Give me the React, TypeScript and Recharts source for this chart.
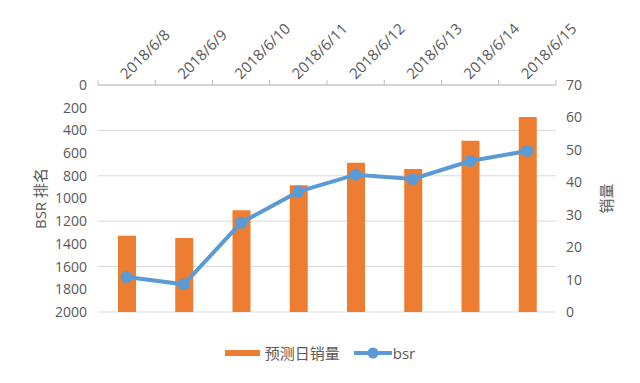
import { ComposedChart, Bar, Line, XAxis, YAxis, CartesianGrid, Legend, Label } from 'recharts'

const dates = ['2018/6/8', '2018/6/9', '2018/6/10', '2018/6/11', '2018/6/12', '2018/6/13', '2018/6/14', '2018/6/15']
const sales = [23.5, 22.8, 31.4, 39.1, 46, 44.1, 52.8, 60.1]
const bsr = [1692, 1756, 1213, 940, 790, 828, 670, 581]
const bsrTicks = [0, 200, 400, 600, 800, 1000, 1200, 1400, 1600, 1800, 2000]
const salesTicks = [0, 10, 20, 30, 40, 50, 60, 70]
const legendOrder = ['预测日销量', 'bsr']

const data = dates.map((date, i) => ({ date, sales: sales[i], bsr: bsr[i] }))

const FONT = '"Open Sans", "Noto Sans CJK SC", sans-serif'
const TEXT = '#595959'
const ORANGE = '#ed7d31'
const BLUE = '#5b9bd5'
const AXIS = '#bfbfbf'

// plot is 640 - 98 - 84 wide, split into one band per date
const BAND = (640 - 98 - 84) / dates.length

const DateTick = (props: any) => {
    const { x, y, payload, index, visibleTicksCount } = props
    const axisY = y + 8
    const ty = y + 3
    return (
        <g>
            <line x1={x - BAND / 2} y1={axisY} x2={x - BAND / 2} y2={axisY - 5} stroke={AXIS} />
            {index === visibleTicksCount - 1 && (
                <line x1={x + BAND / 2} y1={axisY} x2={x + BAND / 2} y2={axisY - 5} stroke={AXIS} />
            )}
            <text
                x={x}
                y={ty}
                transform={`rotate(-45 ${x} ${ty})`}
                textAnchor="start"
                fill={TEXT}
                fontSize={15}
                fontFamily={FONT}
            >
                {payload.value}
            </text>
        </g>
    )
}

const SideTitle = (x: number, text: string) => (props: any) => {
    const vb = props.viewBox
    const cy = vb.y + vb.height / 2
    return (
        <text
            x={x}
            y={cy}
            transform={`rotate(-90 ${x} ${cy})`}
            textAnchor="middle"
            dominantBaseline="central"
            fill={TEXT}
            fontSize={15}
            fontFamily={FONT}
        >
            {text}
        </text>
    )
}

const renderLegend = (props: any) => {
    const items = [...props.payload].sort(
        (a: any, b: any) => legendOrder.indexOf(a.value) - legendOrder.indexOf(b.value)
    )
    return (
        <div style={{ display: 'flex', justifyContent: 'center', alignItems: 'center', fontFamily: FONT, fontSize: 15, color: TEXT }}>
            {items.map((item: any) => (
                <div key={item.value} style={{ display: 'flex', alignItems: 'center', margin: '0 7px' }}>
                    {item.type === 'rect' ? (
                        <span style={{ display: 'inline-block', width: 35, height: 6, background: item.color, marginRight: 5 }} />
                    ) : (
                        <svg width={38} height={14} style={{ marginRight: 1 }}>
                            <line x1={0} y1={7} x2={38} y2={7} stroke={item.color} strokeWidth={4} />
                            <circle cx={19} cy={7} r={5.5} fill={item.color} />
                        </svg>
                    )}
                    <span>{item.value}</span>
                </div>
            ))}
        </div>
    )
}

export default function App() {
    return (
        <div style={{ position: 'fixed', left: 0, top: 0, width: 640, height: 383, background: '#fff' }}>
            <ComposedChart
                width={640}
                height={383}
                data={data}
                margin={{ top: 0, right: 0, left: 0, bottom: 71 }}
            >
                <CartesianGrid yAxisId="left" horizontal vertical={false} stroke="#d9d9d9" strokeWidth={1} />
                <XAxis
                    dataKey="date"
                    orientation="top"
                    height={85}
                    axisLine={{ stroke: AXIS }}
                    tickLine={false}
                    tick={<DateTick />}
                    interval={0}
                />
                <YAxis
                    yAxisId="left"
                    reversed
                    domain={[0, 2000]}
                    ticks={bsrTicks}
                    width={98}
                    axisLine={false}
                    tickLine={false}
                    tickMargin={5}
                    tick={{ fill: TEXT, fontSize: 14, fontFamily: FONT }}
                >
                    <Label content={SideTitle(40, 'BSR 排名')} />
                </YAxis>
                <YAxis
                    yAxisId="right"
                    orientation="right"
                    domain={[0, 70]}
                    ticks={salesTicks}
                    width={84}
                    axisLine={false}
                    tickLine={false}
                    tickMargin={4}
                    tick={{ fill: TEXT, fontSize: 14, fontFamily: FONT, textAnchor: 'start' }}
                >
                    <Label content={SideTitle(606, '销量')} />
                </YAxis>
                <Legend
                    verticalAlign="middle"
                    align="center"
                    layout="horizontal"
                    content={renderLegend}
                    wrapperStyle={{ top: 342, left: 0, width: 640 }}
                />
                <Bar
                    yAxisId="right"
                    dataKey="sales"
                    name="预测日销量"
                    fill={ORANGE}
                    barSize={18}
                    legendType="rect"
                    isAnimationActive={false}
                />
                <Line
                    yAxisId="left"
                    dataKey="bsr"
                    name="bsr"
                    stroke={BLUE}
                    strokeWidth={4}
                    dot={{ r: 6, fill: BLUE, stroke: BLUE, strokeWidth: 0 }}
                    legendType="line"
                    isAnimationActive={false}
                />
            </ComposedChart>
        </div>
    )
}
